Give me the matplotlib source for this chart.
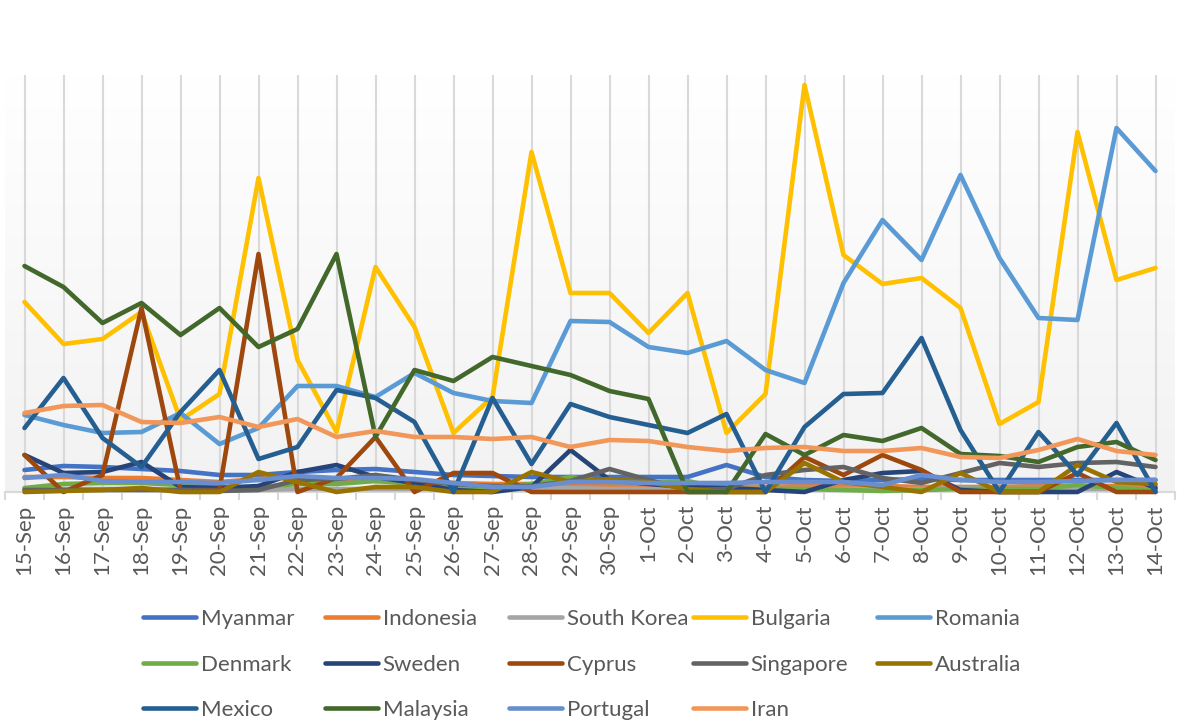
import matplotlib.pyplot as plt
import numpy as np
from matplotlib.colors import LinearSegmentedColormap

dates = ['15-Sep', '16-Sep', '17-Sep', '18-Sep', '19-Sep', '20-Sep', '21-Sep', '22-Sep',
         '23-Sep', '24-Sep', '25-Sep', '26-Sep', '27-Sep', '28-Sep', '29-Sep', '30-Sep',
         '1-Oct', '2-Oct', '3-Oct', '4-Oct', '5-Oct', '6-Oct', '7-Oct', '8-Oct',
         '9-Oct', '10-Oct', '11-Oct', '12-Oct', '13-Oct', '14-Oct']

myanmar = [22, 26, 25, 23, 21, 17, 17, 20, 22, 23, 20, 17, 16, 15, 15, 15, 15, 15, 27, 15,
           12, 11, 12, 13, 12, 12, 12, 12, 12, 12]
indonesia = [15, 15, 14, 14, 12, 10, 13, 15, 12, 11, 10, 9, 8, 8, 7, 7, 7, 7, 6, 5,
             6, 6, 6, 5, 5, 5, 6, 6, 6, 6]
south_korea = [3, 3, 3, 3, 3, 2, 2, 3, 3, 3, 3, 3, 3, 3, 4, 3, 3, 3, 3, 3,
               3, 3, 3, 3, 4, 3, 3, 3, 3, 3]
bulgaria = [190, 148, 153, 180, 72, 98, 314, 132, 60, 225, 165, 59, 95, 340, 199, 199, 159, 199, 59, 98,
            407, 237, 208, 214, 184, 68, 90, 360, 212, 224]
romania = [77, 67, 59, 60, 79, 48, 64, 106, 106, 95, 119, 99, 91, 89, 171, 170, 145, 139, 151, 122,
           109, 209, 272, 232, 317, 234, 174, 172, 364, 321]
denmark = [4, 8, 9, 9, 7, 5, 5, 8, 8, 11, 8, 4, 4, 8, 15, 10, 10, 11, 3, 3,
           3, 2, 1, 2, 3, 3, 3, 7, 4, 2]
sweden = [37, 19, 20, 30, 5, 4, 6, 20, 27, 15, 9, 2, 0, 5, 42, 12, 8, 5, 4, 2,
          0, 12, 19, 21, 2, 0, 0, 0, 20, 4]
cyprus = [37, 0, 17, 184, 2, 2, 238, 0, 14, 55, 0, 19, 19, 0, 0, 0, 0, 0, 0, 0,
          35, 17, 37, 22, 0, 0, 0, 19, 0, 0]
singapore = [2, 2, 2, 2, 2, 1, 2, 12, 13, 17, 12, 8, 6, 6, 11, 23, 12, 2, 3, 17,
             22, 25, 14, 9, 19, 29, 25, 29, 30, 25]
australia = [0, 1, 2, 4, 0, 0, 20, 10, 0, 5, 5, 0, 0, 20, 10, 13, 10, 3, 0, 0,
             29, 10, 5, 0, 19, 0, 0, 27, 10, 8]
mexico = [64, 114, 54, 25, 80, 122, 33, 45, 102, 94, 70, 0, 94, 28, 88, 75, 67, 59, 78, 0,
          65, 98, 99, 154, 62, 0, 60, 17, 69, 0]
malaysia = [226, 205, 169, 189, 157, 184, 145, 163, 238, 55, 122, 111, 135, 126, 117, 101, 93, 0, 0, 58,
            37, 57, 51, 64, 38, 36, 30, 45, 50, 32]
portugal = [14, 17, 11, 10, 10, 9, 12, 16, 14, 14, 13, 9, 5, 5, 10, 10, 9, 9, 9, 10,
            10, 10, 7, 17, 12, 10, 10, 11, 12, 12]
iran = [79, 86, 87, 70, 69, 75, 65, 73, 55, 61, 55, 55, 53, 55, 45, 52, 51, 45, 41, 44,
        45, 41, 41, 44, 35, 34, 42, 53, 41, 37]

names = ['Myanmar', 'Indonesia', 'South Korea', 'Bulgaria', 'Romania',
         'Denmark', 'Sweden', 'Cyprus', 'Singapore', 'Australia',
         'Mexico', 'Malaysia', 'Portugal', 'Iran']
series = [myanmar, indonesia, south_korea, bulgaria, romania,
          denmark, sweden, cyprus, singapore, australia,
          mexico, malaysia, portugal, iran]
colors = ['#4472C4', '#ED7D31', '#A5A5A5', '#FFC000', '#5B9BD5',
          '#70AD47', '#264478', '#9E480E', '#636363', '#997300',
          '#255E91', '#43682B', '#698ED0', '#F1975A']

plt.rcParams['font.family'] = ['Lato', 'DejaVu Sans']
txt = '#595959'
fs = 16

fig = plt.figure(figsize=(11.78, 7.21), dpi=100)
W, H = 1178, 721
ax = fig.add_axes([5 / W, 1 - 492 / H, 1170 / W, 417 / H])

# plot area gradient
cmap = LinearSegmentedColormap.from_list('bg', ['#F2F2F2', '#FFFFFF'])
ax.imshow(np.linspace(0, 1, 256)[:, None], extent=[0, 1, 0, 1], transform=ax.transAxes,
          cmap=cmap, aspect='auto', origin='lower', zorder=0)

x = np.arange(len(dates))
lines = []
for name, vals, c in zip(names, series, colors):
    ln, = ax.plot(x, vals, color=c, lw=3.3, label=name, solid_joinstyle='round',
                  solid_capstyle='round', clip_on=False, zorder=3)
    lines.append(ln)

ax.set_xlim(-0.5, len(dates) - 0.5)
ax.set_ylim(0, 417)
ax.set_yticks([])
for s in ['top', 'left', 'right']:
    ax.spines[s].set_visible(False)
ax.spines['bottom'].set_color('#D9D9D9')
ax.spines['bottom'].set_linewidth(1.5)

ax.set_xticks(x)
ax.set_xticklabels(dates, rotation=90, fontsize=fs, color=txt)
ax.set_xticks(np.arange(-0.5, len(dates), 1), minor=True)
ax.tick_params(axis='x', which='major', length=0, pad=9)
ax.tick_params(axis='x', which='minor', length=6, width=1.5, color='#D9D9D9')
ax.grid(axis='x', which='major', color='#D9D9D9', lw=1.5, zorder=1)
ax.set_axisbelow(True)

# legend: five columns, filled row by row like the original
col_x = [143, 325, 509, 693, 877]
for c in range(5):
    idx = [i for i in range(len(names)) if i % 5 == c]
    leg = fig.legend([lines[i] for i in idx], [names[i] for i in idx],
                     loc='upper left', bbox_to_anchor=(col_x[c] / W, 1 - 609 / H),
                     frameon=False, fontsize=fs, handlelength=2.4, handletextpad=0.2,
                     labelspacing=1.15, borderpad=0, borderaxespad=0, labelcolor=txt)
    for h in leg.legend_handles:
        h.set_linewidth(3.3)

fig.savefig('out.png', dpi=100)
